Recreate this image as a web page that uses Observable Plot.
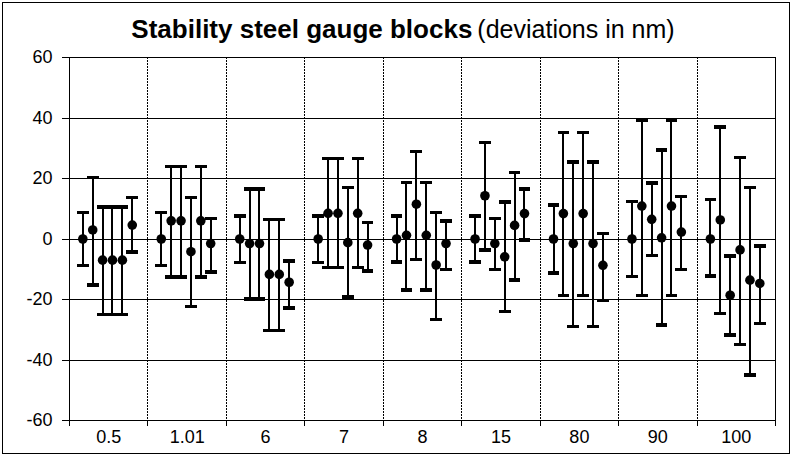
<!DOCTYPE html>
<html><head><meta charset="utf-8">
<script src="https://cdn.jsdelivr.net/npm/d3@7"></script>
<script src="https://cdn.jsdelivr.net/npm/@observablehq/plot@0.6"></script>
<style>
body{margin:0;background:#fff;}
#wrap{position:relative;width:792px;height:456px;font-family:"Liberation Sans",Arial,sans-serif;}
#border{position:absolute;left:2px;top:2px;width:786px;height:450px;border:1px solid #000;pointer-events:none;}
#title{position:absolute;left:0;width:806px;top:14px;text-align:center;white-space:nowrap;color:#000;line-height:30px;}
</style></head><body>
<div id="wrap"><div id="chart"></div><div id="title"><b style="font-size:26px">Stability steel gauge blocks</b><span style="font-size:25px;margin-left:5px">(deviations in nm)</span></div><div id="border"></div></div>
<script>
const categories = ["0.5","1.01","6","7","8","15","80","90","100"];
const values = [
  [0, 3.0, -7.0, -7.0, -7.0, 4.6],
  [0, 6.0, 6.0, -4.2, 6.0, -1.5],
  [0, -1.5, -1.5, -11.7, -11.7, -14.3],
  [0, 8.5, 8.5, -1.2, 8.5, -2.0],
  [0, 1.2, 11.5, 1.2, -8.6, -1.5],
  [0, 14.3, -1.5, -5.9, 4.5, 8.4],
  [0, 8.4, -1.5, 8.4, -1.5, -8.7],
  [0, 10.9, 6.5, 0.4, 10.9, 2.3],
  [0, 6.3, -18.6, -3.6, -13.6, -14.7]
];
const highs = [
  [8.8, 20.3, 10.6, 10.6, 10.6, 13.7],
  [8.8, 23.9, 23.9, 13.7, 23.9, 6.8],
  [7.6, 16.5, 16.5, 6.5, 6.5, -7.3],
  [7.6, 26.6, 26.6, 17.0, 26.6, 5.4],
  [7.6, 18.7, 28.9, 18.7, 8.8, 6.0],
  [7.6, 31.9, 6.7, 12.3, 22.0, 16.5],
  [11.2, 35.2, 25.5, 35.2, 25.5, 1.9],
  [12.4, 39.1, 18.5, 29.5, 39.1, 14.0],
  [13.1, 37.0, -5.6, 27.0, 17.1, -2.3]
];
const lows = [
  [-8.7, -15.2, -25.0, -25.0, -25.0, -4.3],
  [-8.7, -12.6, -12.6, -22.3, -12.6, -10.9],
  [-7.8, -19.8, -19.8, -30.2, -30.2, -22.8],
  [-7.8, -9.5, -9.5, -19.2, -9.5, -10.6],
  [-7.6, -16.9, -6.7, -16.9, -26.6, -10.1],
  [-7.6, -3.6, -10.1, -23.9, -13.6, -0.3],
  [-11.2, -18.7, -28.9, -18.7, -28.9, -20.3],
  [-12.4, -18.7, -5.4, -28.5, -18.7, -10.1],
  [-12.2, -24.6, -31.8, -34.9, -44.9, -28.0]
];
const yTicks = [-60, -40, -20, 0, 20, 40, 60];

const data = [];
categories.forEach((c, i) => values[i].forEach((v, j) =>
  data.push({x: i + 0.17 + 0.126 * j, v, lo: lows[i][j], hi: highs[i][j]})));
const capHalf = 0.075;
const crisp = "crispEdges";

const chart = Plot.plot({
  width: 792, height: 456,
  marginLeft: 69, marginRight: 17, marginTop: 57, marginBottom: 36,
  x: {domain: [0, 9]},
  y: {domain: [-60, 60]},
  style: {fontFamily: "'Liberation Sans', Arial, sans-serif", fontSize: "18px", color: "#000", background: "transparent"},
  marks: [
    Plot.ruleY(yTicks, {stroke: "#000", strokeWidth: 1, shapeRendering: crisp}),
    Plot.ruleX(d3.range(1, 9), {stroke: "#000", strokeDasharray: "2,1", shapeRendering: crisp}),
    Plot.ruleX([0, 9], {stroke: "#000", strokeWidth: 1, shapeRendering: crisp}),
    Plot.axisY({ticks: yTicks, tickSize: 7, tickPadding: 10, label: null, fontSize: 18,
      tickFormat: d => String(d), shapeRendering: crisp}),
    Plot.axisX({ticks: d3.range(10), tickSize: 6, tickFormat: () => "", label: null, shapeRendering: crisp}),
    Plot.axisX({ticks: categories.map((c, i) => i + 0.5), tickSize: 0, tickPadding: 10,
      tickFormat: d => categories[Math.floor(d)], label: null, fontSize: 18}),
    Plot.ruleX(data, {x: "x", y1: "lo", y2: "hi", stroke: "#000", strokeWidth: 2, shapeRendering: crisp}),
    Plot.link(data, {x1: d => d.x - capHalf, x2: d => d.x + capHalf, y1: "hi", y2: "hi", stroke: "#000", strokeWidth: 3.5, shapeRendering: crisp}),
    Plot.link(data, {x1: d => d.x - capHalf, x2: d => d.x + capHalf, y1: "lo", y2: "lo", stroke: "#000", strokeWidth: 3.5, shapeRendering: crisp}),
    Plot.dot(data, {x: "x", y: "v", r: 4.8, fill: "#000", stroke: "none"})
  ]
});
document.getElementById("chart").appendChild(chart);
</script>
</body></html>
